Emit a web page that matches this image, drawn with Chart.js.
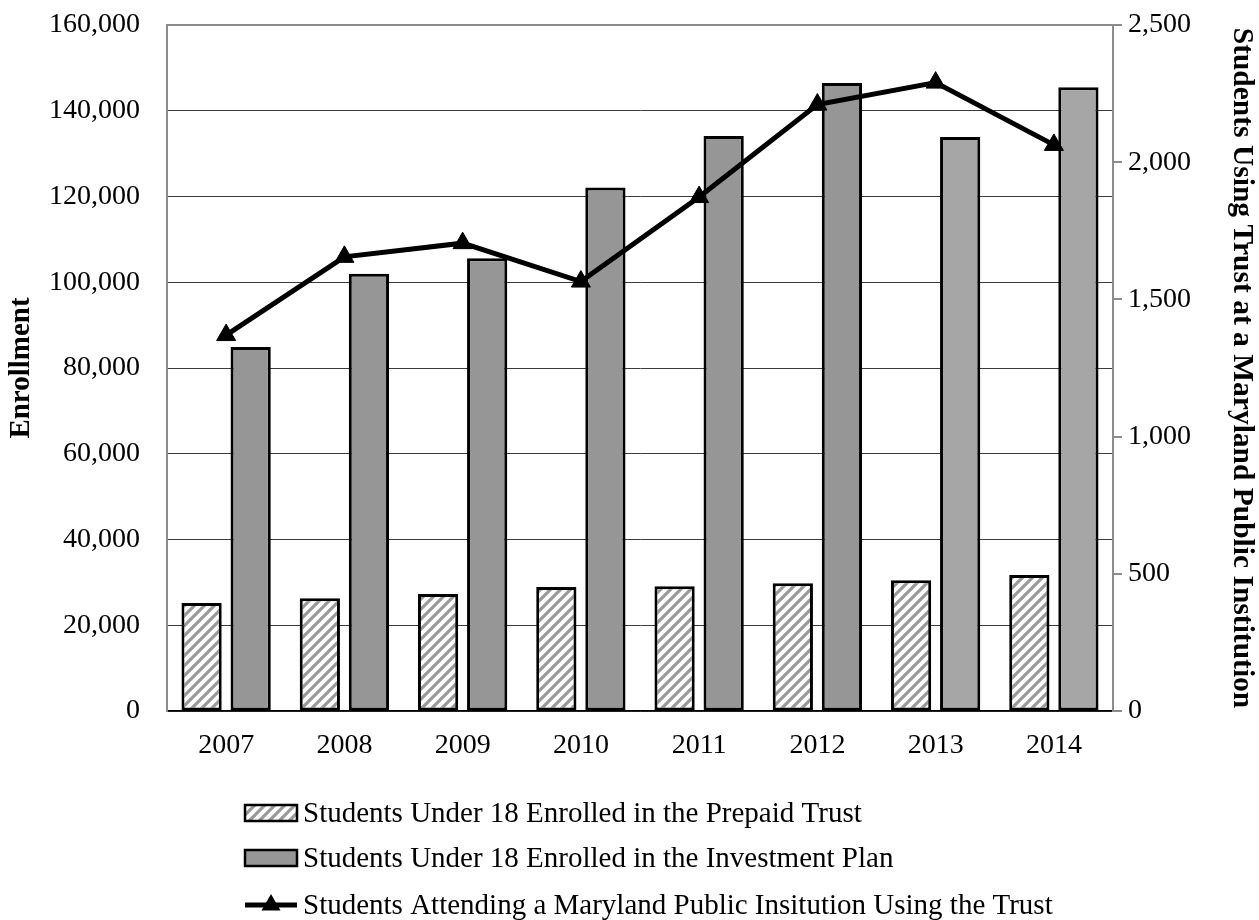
<!DOCTYPE html>
<html>
<head>
<meta charset="utf-8">
<script src="https://cdn.jsdelivr.net/npm/chart.js@4.4.1/dist/chart.umd.min.js"></script>
<style>
  html, body { margin: 0; padding: 0; background: #ffffff; }
  #wrap { width: 1259px; height: 920px; position: relative; }
</style>
</head>
<body>
<div id="wrap"><canvas id="c" width="1259" height="920"></canvas></div>
<script>
// Fiscal years shown on the category axis
const years = ['2007', '2008', '2009', '2010', '2011', '2012', '2013', '2014'];

// Enrollment (left axis)
const prepaidTrust = [25200, 26300, 27300, 28900, 29100, 29800, 30500, 31700];
const investmentPlan = [84900, 102000, 105600, 122100, 134100, 146500, 133900, 145500];

// Students attending a Maryland public institution (right axis)
const attendingPublic = [1370, 1655, 1705, 1565, 1873, 2210, 2290, 2063];

// Axis tick values
const leftTicks = [0, 20000, 40000, 60000, 80000, 100000, 120000, 140000, 160000];
const rightTicks = [0, 500, 1000, 1500, 2000, 2500];

const seriesLabels = [
  'Students Under 18 Enrolled in the Prepaid Trust',
  'Students Under 18 Enrolled in the Investment Plan',
  'Students Attending a Maryland Public Insitution Using the Trust'
];

const FONT = "'Liberation Serif', 'Times New Roman', serif";

// Diagonal hatch fill for the prepaid trust bars
function makeHatch() {
  const s = 10;
  const p = document.createElement('canvas');
  p.width = s; p.height = s;
  const g = p.getContext('2d');
  g.fillStyle = '#ffffff';
  g.fillRect(0, 0, s, s);
  g.strokeStyle = '#9a9a9a';
  g.lineWidth = 3.2;
  g.beginPath();
  g.moveTo(-2, s + 2); g.lineTo(s + 2, -2);
  g.moveTo(-s / 2 - 2, s / 2 + 2); g.lineTo(s / 2 + 2, -s / 2 - 2);
  g.moveTo(s / 2 - 2, s * 1.5 + 2); g.lineTo(s * 1.5 + 2, s / 2 - 2);
  g.stroke();
  return document.getElementById('c').getContext('2d').createPattern(p, 'repeat');
}
const hatch = makeHatch();

const investColors = years.map((y, i) => (i >= 6 ? '#a6a6a6' : '#969696'));

// Legend drawn below the plot, one entry per row
const legendRows = {
  id: 'legendRows',
  afterDraw(chart) {
    const ctx = chart.ctx;
    const x0 = 245, sw = 52, sh = 16, tx = 303;
    const ys = [813, 858, 905];
    ctx.save();
    ctx.font = '29px ' + FONT;
    ctx.fillStyle = '#000';
    ctx.textBaseline = 'middle';
    ctx.textAlign = 'left';
    chart.data.datasets.forEach((ds, i) => {
      const y = ys[i];
      if (ds.type === 'line') {
        ctx.strokeStyle = '#000';
        ctx.lineWidth = 5;
        ctx.beginPath();
        ctx.moveTo(x0, y); ctx.lineTo(x0 + sw, y);
        ctx.stroke();
        const r = 11, cx = x0 + sw / 2;
        ctx.beginPath();
        ctx.moveTo(cx, y - r);
        ctx.lineTo(cx + Math.sin(2 * Math.PI / 3) * r, y - Math.cos(2 * Math.PI / 3) * r);
        ctx.lineTo(cx + Math.sin(4 * Math.PI / 3) * r, y - Math.cos(4 * Math.PI / 3) * r);
        ctx.closePath();
        ctx.fillStyle = '#000';
        ctx.fill();
      } else {
        ctx.fillStyle = i === 0 ? hatch : '#969696';
        ctx.fillRect(x0, y - sh / 2, sw, sh);
        ctx.strokeStyle = '#000';
        ctx.lineWidth = 2.5;
        ctx.strokeRect(x0, y - sh / 2, sw, sh);
      }
      ctx.fillStyle = '#000';
      ctx.fillText(ds.label, tx, y + 1);
    });
    ctx.restore();
  }
};

new Chart(document.getElementById('c'), {
  data: {
    labels: years,
    datasets: [
      {
        type: 'bar',
        label: seriesLabels[0],
        data: prepaidTrust,
        yAxisID: 'y',
        backgroundColor: hatch,
        borderColor: '#000',
        borderWidth: 3,
        borderSkipped: false,
        categoryPercentage: 0.83,
        barPercentage: 0.82,
        order: 1
      },
      {
        type: 'bar',
        label: seriesLabels[1],
        data: investmentPlan,
        yAxisID: 'y',
        backgroundColor: investColors,
        borderColor: '#000',
        borderWidth: 3,
        borderSkipped: false,
        categoryPercentage: 0.83,
        barPercentage: 0.82,
        order: 1
      },
      {
        type: 'line',
        label: seriesLabels[2],
        data: attendingPublic,
        yAxisID: 'y1',
        borderColor: '#000',
        borderWidth: 5,
        tension: 0,
        pointStyle: 'triangle',
        pointRadius: 11,
        pointBackgroundColor: '#000',
        pointBorderColor: '#000',
        pointBorderWidth: 1,
        order: 0
      }
    ]
  },
  options: {
    responsive: false,
    animation: false,
    devicePixelRatio: 1,
    layout: { padding: { top: 25, left: 0, right: 0, bottom: 0 } },
    plugins: {
      legend: { display: false },
      tooltip: { enabled: false }
    },
    scales: {
      x: {
        grid: { display: false, drawTicks: false },
        border: { display: true, color: '#000', width: 1.5 },
        ticks: { color: '#000', font: { family: FONT, size: 28 }, padding: 18 },
        afterFit(scale) { scale.height = 920 - 711; }
      },
      y: {
        position: 'left',
        min: 0, max: 160000,
        afterBuildTicks(scale) { scale.ticks = leftTicks.map(v => ({ value: v })); },
        grid: {
          drawTicks: true,
          tickLength: 19,
          tickColor: 'rgba(0,0,0,0)',
          color: ctx => (ctx.tick && ctx.tick.value === 160000 ? '#8c8c8c' : '#3c3c3c'),
          lineWidth: ctx => (ctx.tick && ctx.tick.value === 160000 ? 2 : 1)
        },
        border: { display: true, color: '#8c8c8c', width: 2 },
        ticks: {
          color: '#000',
          padding: 8,
          font: { family: FONT, size: 28 },
          callback: v => v.toLocaleString('en-US')
        },
        title: {
          display: true,
          text: 'Enrollment',
          color: '#000',
          font: { family: FONT, size: 29, weight: 'bold' },
          padding: { top: 4, bottom: 0 }
        },
        afterFit(scale) { scale.width = 167; }
      },
      y1: {
        position: 'right',
        min: 0, max: 2500,
        afterBuildTicks(scale) { scale.ticks = rightTicks.map(v => ({ value: v })); },
        grid: {
          drawOnChartArea: false,
          drawTicks: true,
          tickLength: 9,
          color: '#8c8c8c',
          lineWidth: 2
        },
        border: { display: true, color: '#8c8c8c', width: 2 },
        ticks: {
          color: '#000',
          padding: 6,
          font: { family: FONT, size: 28 },
          callback: v => v.toLocaleString('en-US')
        },
        title: {
          display: true,
          text: 'Students Using Trust at a Maryland Public Institution',
          color: '#000',
          font: { family: FONT, size: 29.5, weight: 'bold' },
          padding: { top: 0, bottom: 0 }
        },
        afterFit(scale) { scale.width = 1259 - 1113; }
      }
    }
  },
  plugins: [legendRows]
});
</script>
</body>
</html>
